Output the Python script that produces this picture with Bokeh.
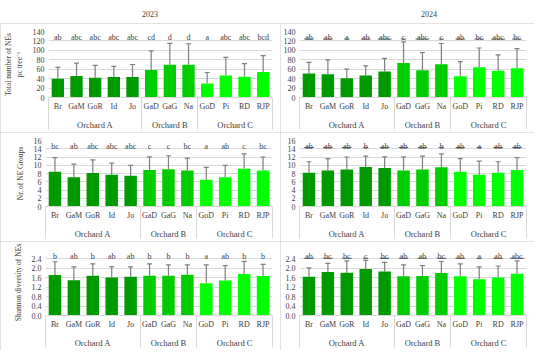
from bokeh.plotting import figure
from bokeh.models import (ColumnDataSource, Range1d, Whisker, TeeHead,
                          SingleIntervalTicker, PrintfTickFormatter, Div, LinearAxis,
                          FixedTicker)
from bokeh.layouts import column, row
from bokeh.embed import file_html
from bokeh.resources import INLINE
from bokeh.core.properties import value

# ---------------- data ----------------
orchards = ["Orchard A"] * 5 + ["Orchard B"] * 3 + ["Orchard C"] * 4
cultivars = ["Br", "GaM", "GoR", "Id", "Jo", "GaD", "GaG", "Na", "GoD", "Pi", "RD", "RJP"]
years = ["2023", "2024"]

ne_2023 = [40, 45.5, 42, 43.5, 43.5, 58.5, 69.5, 69.5, 29.5, 46.5, 44, 54]
ne_2023_sd = [24, 27.5, 26, 22.5, 26.5, 40.5, 45.5, 44.5, 23.5, 38.5, 28, 35]
ne_2023_letters = ["ab", "abc", "abc", "abc", "abc", "cd", "d", "d", "a", "abc", "abc", "bcd"]

ne_2024 = [51, 49.5, 41, 46.5, 55, 73, 58, 70.5, 45, 64, 57, 62]
ne_2024_sd = [23.5, 30.5, 19, 20.5, 28, 45, 37.5, 44, 31, 41, 33.5, 41.5]
ne_2024_letters = ["ab", "ab", "a", "ab", "abc", "c", "abc", "c", "ab", "bc", "abc", "bc"]

grp_2023 = [8.45, 7.1, 8.15, 7.7, 7.45, 8.85, 9.05, 8.75, 6.5, 7.1, 9.15, 8.75]
grp_2023_sd = [3.4, 3.15, 3.15, 2.8, 2.5, 3.2, 3.25, 3.0, 3.0, 2.85, 3.6, 3.25]
grp_2023_letters = ["bc", "ab", "abc", "abc", "abc", "c", "c", "bc", "a", "ab", "c", "bc"]

grp_2024 = [8.2, 8.75, 9.0, 9.6, 9.35, 8.75, 9.0, 9.5, 8.45, 7.7, 8.2, 8.85]
grp_2024_sd = [2.65, 2.85, 3.0, 2.6, 2.7, 3.3, 3.2, 3.25, 3.15, 3.3, 2.65, 3.0]
grp_2024_letters = ["ab", "ab", "ab", "b", "ab", "ab", "ab", "b", "ab", "a", "ab", "ab"]

sh_2023 = [1.72, 1.50, 1.69, 1.61, 1.64, 1.69, 1.69, 1.73, 1.37, 1.48, 1.76, 1.68]
sh_2023_sd = [0.56, 0.56, 0.50, 0.46, 0.42, 0.50, 0.46, 0.42, 0.78, 0.64, 0.54, 0.49]
sh_2023_letters = ["b", "ab", "b", "ab", "ab", "b", "b", "b", "a", "ab", "b", "b"]

sh_2024 = [1.64, 1.85, 1.81, 1.97, 1.87, 1.67, 1.68, 1.80, 1.67, 1.54, 1.61, 1.77]
sh_2024_sd = [0.38, 0.36, 0.51, 0.37, 0.38, 0.48, 0.44, 0.49, 0.52, 0.52, 0.49, 0.55]
sh_2024_letters = ["ab", "bc", "bc", "c", "bc", "ab", "ab", "bc", "ab", "a", "ab", "abc"]

y_labels = ["Total number of NEs\npc tree\u207b\u00b9", "Nr. of NE Groups", "Shannon diversity of NEs"]

# ---------------- style ----------------
FONT = "Liberation Serif"
FONT_V = value(FONT)
TXT = "#404040"
GRID = "#d9d9d9"
ERR = "#7f7f7f"
orchard_colors = {"Orchard A": "#009a00", "Orchard B": "#00cc00", "Orchard C": "#00ff00"}

# category slots (one unit per cultivar) and group structure from the lists
xpos = [i + 0.5 for i in range(len(cultivars))]
group_names = list(dict.fromkeys(orchards))
group_counts = [orchards.count(g) for g in group_names]
bounds = [0]
for c in group_counts:
    bounds.append(bounds[-1] + c)
group_centers = [(bounds[i] + bounds[i + 1]) / 2 for i in range(len(group_names))]

LEFT_W, RIGHT_W, PANEL_H = 280, 254, 109


def style_x_axis(ax, size):
    ax.axis_line_color = None
    ax.major_tick_line_color = None
    ax.major_tick_out = 0
    ax.major_tick_in = 0
    ax.minor_tick_line_color = GRID
    ax.minor_tick_line_width = 1
    ax.minor_tick_in = 0
    ax.minor_tick_out = 0
    ax.axis_label_standoff = 0
    ax.major_label_text_font = FONT
    ax.major_label_text_font_size = size
    ax.major_label_text_color = TXT


def make_panel(means, sd, letters, ymax, step, fmt, ylabel, left, underline, level):
    src = ColumnDataSource(dict(
        x=xpos,
        top=means,
        upper=[m + s for m, s in zip(means, sd)],
        color=[orchard_colors[o] for o in orchards],
        letters=letters,
        ly=[level] * len(means),
        ulen=[4.3 * len(t) + 1 for t in letters],
    ))
    p = figure(
        x_range=Range1d(0, len(cultivars)),
        y_range=Range1d(0, ymax),
        width=LEFT_W if left else RIGHT_W, height=PANEL_H,
        output_backend="svg", toolbar_location=None,
        x_axis_location=None,
        min_border_left=45 if left else 19, min_border_right=8,
        min_border_top=8, min_border_bottom=32,
    )
    p.styles = {"outline": "1px solid #d9d9d9", "outline-offset": "-1px"}
    p.outline_line_color = None
    p.xgrid.grid_line_color = None
    p.ygrid.grid_line_color = GRID
    p.vbar(x="x", top="top", width=0.66, fill_color="color", line_color=None, source=src)
    p.add_layout(Whisker(base="x", lower="top", upper="upper", source=src,
                         line_color=ERR, line_width=1.2,
                         upper_head=TeeHead(size=5, line_color=ERR, line_width=1.2),
                         lower_head=None))
    p.text(x="x", y="ly", text="letters", source=src, text_align="center",
           text_baseline="alphabetic", y_offset=-1.5, text_font=FONT_V,
           text_font_size="8px", text_color=TXT)
    if underline:
        p.scatter(x="x", y="ly", size="ulen", marker="dash", line_color=TXT,
                  line_width=0.8, source=src)

    ya = p.yaxis[0]
    ya.ticker = SingleIntervalTicker(interval=step)
    if fmt:
        ya.formatter = PrintfTickFormatter(format=fmt)
    ya.axis_line_color = None
    ya.major_tick_line_color = None
    ya.minor_tick_line_color = None
    ya.major_tick_out = 0
    ya.minor_tick_out = 0
    ya.major_label_text_font = FONT
    ya.major_label_text_font_size = "8px"
    ya.major_label_text_color = TXT
    ya.major_label_standoff = 4
    if left:
        ya.axis_label = ylabel
        ya.axis_label_text_font = FONT
        ya.axis_label_text_font_size = "7.5px"
        ya.axis_label_text_font_style = "normal"
        ya.axis_label_text_color = TXT
        ya.axis_label_standoff = 6

    # cultivar labels
    xa = LinearAxis(
        ticker=FixedTicker(ticks=xpos, minor_ticks=[]),
        major_label_overrides={x: c for x, c in zip(xpos, cultivars)},
    )
    style_x_axis(xa, "8px")
    xa.axis_line_color = GRID
    xa.major_label_standoff = 4
    p.add_layout(xa, "below")

    # orchard group labels; separators at group bounds drawn as minor ticks
    ga = LinearAxis(
        ticker=FixedTicker(ticks=group_centers, minor_ticks=bounds),
        major_label_overrides={x: g for x, g in zip(group_centers, group_names)},
    )
    style_x_axis(ga, "8.5px")
    ga.minor_tick_in = 16
    ga.minor_tick_out = 16
    ga.major_label_standoff = -10
    p.add_layout(ga, "below")
    return p


panels = [
    (ne_2023, ne_2023_sd, ne_2023_letters, ne_2024, ne_2024_sd, ne_2024_letters, 140, 20, None, 124),
    (grp_2023, grp_2023_sd, grp_2023_letters, grp_2024, grp_2024_sd, grp_2024_letters, 16, 2, None, 14.3),
    (sh_2023, sh_2023_sd, sh_2023_letters, sh_2024, sh_2024_sd, sh_2024_letters, 2.8, 0.4, "%.1f", 2.43),
]


def title_div(text, w, pad):
    return Div(text=f'<div style="width:{w - pad}px;text-align:left;font-family:{FONT};'
                    f'font-size:8px;color:{TXT};line-height:12px;padding-left:{pad}px;">{text}</div>',
               width=w, height=13)


rows = [row(title_div(years[0], LEFT_W, 137), title_div(years[1], RIGHT_W, 126))]
for i, (m1, s1, l1, m2, s2, l2, ymax, step, fmt, lvl) in enumerate(panels):
    a = make_panel(m1, s1, l1, ymax, step, fmt, y_labels[i], True, False, lvl)
    b = make_panel(m2, s2, l2, ymax, step, fmt, y_labels[i], False, True, lvl)
    rows.append(row(a, b))

layout = column(*rows)
open("out.html", "w").write(file_html(layout, INLINE))
